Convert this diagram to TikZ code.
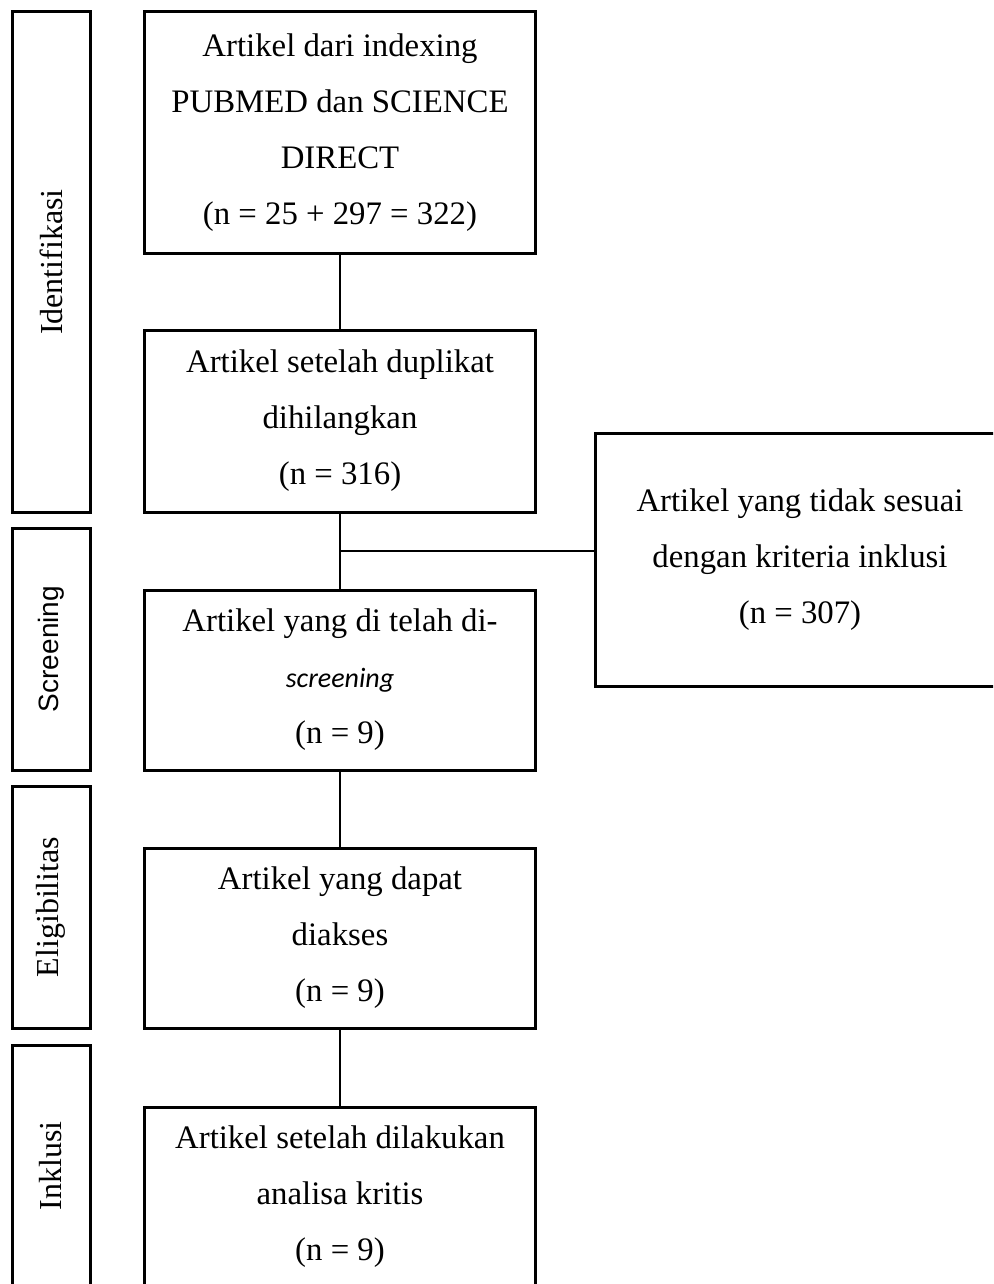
\documentclass[tikz,border=0pt]{standalone}
\usepackage{fontspec}
\setmainfont{Liberation Serif}
\newfontfamily\arialfont{Liberation Sans}
\newfontfamily\calibrifont{Carlito}

\begin{document}
\begin{tikzpicture}[x=0.5pt, y=-0.5pt,
    flowbox/.style={draw, line width=1.5pt, minimum width=195.5pt, inner sep=0pt,
        align=center, font=\fontsize{16.4}{28}\selectfont},
    phasebar/.style={draw, line width=1.5pt, minimum width=121pt, minimum height=39pt,
        inner sep=0pt, rotate=90, font=\fontsize{16}{19}\selectfont},
    link/.style={line width=0.75pt}]
    \clip (0,0) rectangle (993,1284);

    % phase bars
    \node[phasebar, minimum width=250pt] (identbar) at (51,262) {Identifikasi};
    \node[phasebar, font=\arialfont\fontsize{14}{17}\selectfont] (screenbar) at (51,649) {Screening};
    \node[phasebar] (eligbar) at (51,907) {Eligibilitas};
    \node[phasebar] (inklbar) at (51,1166) {Inklusi};

    % flow boxes
    \node[flowbox, minimum height=120.5pt] (found) at (340,132.5)
        {Artikel dari indexing\\PUBMED dan SCIENCE\\DIRECT\\(n = 25 + 297 = 322)};
    \node[flowbox, minimum height=91pt] (dedup) at (340,421)
        {Artikel setelah duplikat\\dihilangkan\\(n = 316)};
    \node[flowbox, minimum height=90pt] (screened) at (340,680)
        {Artikel yang di telah di-\\{\calibrifont\itshape\fontsize{14}{28}\selectfont screening}\\(n = 9)};
    \node[flowbox, minimum height=90pt] (access) at (340,938)
        {Artikel yang dapat\\diakses\\(n = 9)};
    \node[flowbox, minimum height=90pt] (critic) at (340,1197)
        {Artikel setelah dilakukan\\analisa kritis\\(n = 9)};
    \node[flowbox, minimum width=205pt, minimum height=126.5pt] (excl) at (800,559.5)
        {Artikel yang tidak sesuai\\dengan kriteria inklusi\\(n = 307)};

    % connectors
    \coordinate (split) at (340,551);
    \draw[link] (found.south) -- (dedup.north);
    \draw[link] (dedup.south) -- (screened.north);
    \draw[link] (split) -- (split -| excl.west);
    \draw[link] (screened.south) -- (access.north);
    \draw[link] (access.south) -- (critic.north);
\end{tikzpicture}
\end{document}
